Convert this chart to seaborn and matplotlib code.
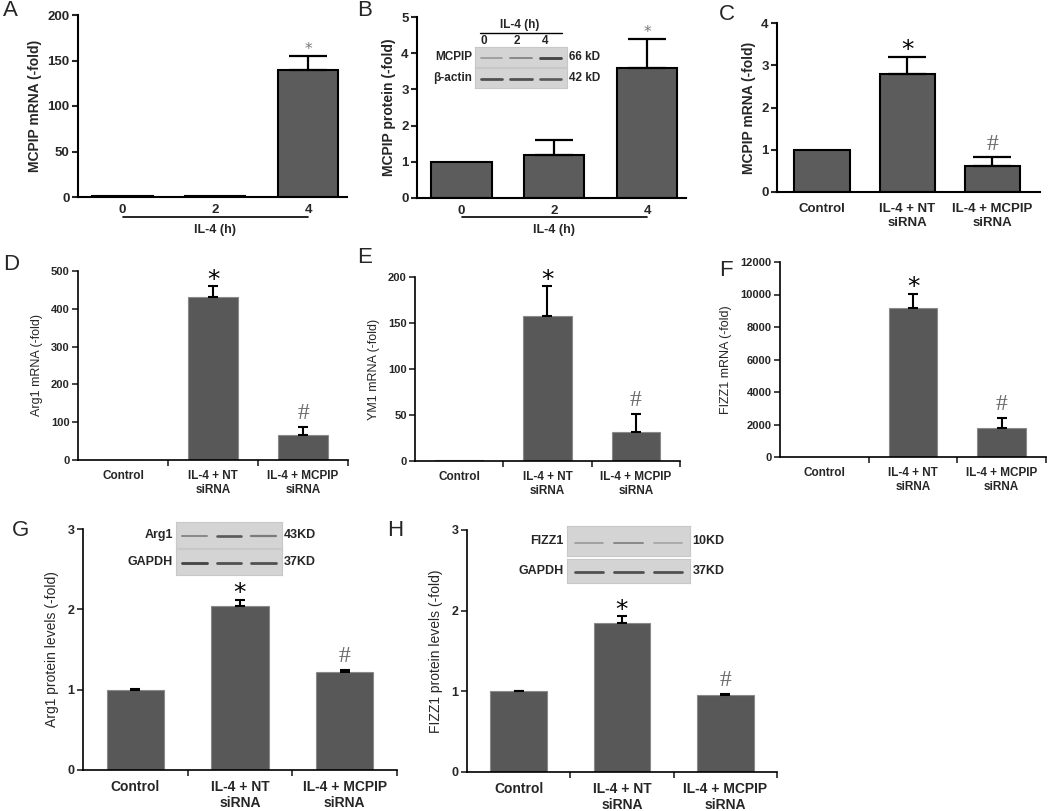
import numpy as np
import matplotlib.pyplot as plt
import seaborn as sns
from matplotlib.transforms import blended_transform_factory

# ---- data ----
time_labels = ['0', '2', '4']
sirna_labels = ['Control', 'IL-4 + NT\nsiRNA', 'IL-4 + MCPIP\nsiRNA']

mcpip_mrna_time = [1.0, 1.5, 140]
mcpip_mrna_time_err = [0, 0, 15]
mcpip_prot_time = [1.0, 1.2, 3.6]
mcpip_prot_time_err = [0, 0.4, 0.8]
mcpip_mrna_si = [1.0, 2.8, 0.62]
mcpip_mrna_si_err = [0, 0.4, 0.2]

arg1_mrna = [1, 430, 65]
arg1_mrna_err = [0, 30, 22]
ym1_mrna = [1, 158, 31]
ym1_mrna_err = [0, 32, 20]
fizz1_mrna = [1, 9200, 1800]
fizz1_mrna_err = [0, 850, 600]

arg1_prot = [1.0, 2.04, 1.22]
arg1_prot_err = [0.01, 0.08, 0.03]
fizz1_prot = [1.0, 1.85, 0.96]
fizz1_prot_err = [0.01, 0.08, 0.01]

sig_time = ['', '', '*']
sig_si = ['', '*', '#']

# western blot band strength per lane (0 = none, 1 = dark)
blot_b = {'MCPIP': [0.3, 0.4, 0.8], 'β-actin': [0.75, 0.75, 0.7]}
blot_g = {'Arg1': [0.4, 0.7, 0.5], 'GAPDH': [0.8, 0.75, 0.75]}
blot_h = {'FIZZ1': [0.3, 0.4, 0.25], 'GAPDH': [0.75, 0.75, 0.75]}
kd_b = ['66 kD', '42 kD']
kd_g = ['43KD', '37KD']
kd_h = ['10KD', '37KD']

sns.set_style('ticks')
plt.rcParams['font.family'] = ['Liberation Sans', 'DejaVu Sans']

W, H = 1050, 811
fig = plt.figure(figsize=(W / 100, H / 100), dpi=100)


def px_axes(l, t, r, b):
    return fig.add_axes([l / W, 1 - b / H, (r - l) / W, (b - t) / H])


def bars(ax, labels, vals, errs, sig, style):
    if style == 'prism':
        sns.barplot(x=labels, y=vals, order=labels, color='#5c5c5c', saturation=1,
                    edgecolor='black', linewidth=1.5, width=0.65, ax=ax)
        ecol, elw, cap = 'black', 1.6, 14
    else:
        sns.barplot(x=labels, y=vals, order=labels, color='#585858', saturation=1,
                    edgecolor='#8a8a8a', linewidth=0.8, width=0.55, ax=ax)
        ecol, elw, cap = 'black', 1.5, 3.5
    idx = [i for i, e in enumerate(errs) if e > 0]
    ax.errorbar(idx, [vals[i] for i in idx], yerr=[[0] * len(idx), [errs[i] for i in idx]],
                fmt='none', ecolor=ecol, elinewidth=elw, capsize=cap, capthick=elw)
    for i, s in enumerate(sig):
        if not s:
            continue
        top = vals[i] + errs[i]
        if s == '*':
            if style == 'prism' and labels[0] == '0':
                ax.annotate(s, (i, top), xytext=(0, -1), textcoords='offset points',
                            ha='center', va='bottom', fontsize=11, color='#777777',
                            family='DejaVu Sans')
            else:
                ax.annotate(s, (i, top), xytext=(0, -4), textcoords='offset points',
                            ha='center', va='bottom', fontsize=18, color='black',
                            family='DejaVu Sans')
        else:
            ax.annotate(s, (i, top), xytext=(0, 2), textcoords='offset points',
                        ha='center', va='bottom', fontsize=17, color='#6a6a6a',
                        family='Liberation Serif')
    ax.set_xlabel('')


def style_prism(ax, ylim, step, ylabel, cat_pad=5):
    ax.set_ylim(*ylim)
    ax.set_yticks(np.arange(ylim[0], ylim[1] + step / 2, step))
    sns.despine(ax=ax)
    for s in ['left', 'bottom']:
        ax.spines[s].set_linewidth(1.5)
        ax.spines[s].set_color('black')
    ax.tick_params(axis='y', direction='out', length=4, width=1.5, labelsize=9.5, pad=2)
    ax.tick_params(axis='x', length=0, labelsize=9.5, pad=cat_pad)
    plt.setp(ax.get_yticklabels(), fontweight='bold')
    plt.setp(ax.get_xticklabels(), fontweight='bold', linespacing=1.25)
    ax.set_ylabel(ylabel, fontsize=10, fontweight='bold', labelpad=4)


def style_excel(ax, ylim, step, ylabel, tick_fs, lab_fs, cat_fs):
    ax.set_ylim(*ylim)
    ax.set_xlim(-0.5, 2.5)
    ax.set_yticks(np.arange(ylim[0], ylim[1] + step / 2, step))
    sns.despine(ax=ax)
    for s in ['left', 'bottom']:
        ax.spines[s].set_linewidth(1.2)
        ax.spines[s].set_color('black')
    ax.set_xticks([0.5, 1.5, 2.5], minor=True)
    ax.tick_params(axis='x', which='minor', direction='out', length=4, width=1.2)
    ax.tick_params(axis='x', which='major', length=0, labelsize=cat_fs, pad=7)
    ax.tick_params(axis='y', direction='out', length=4, width=1.2, labelsize=tick_fs, pad=2)
    plt.setp(ax.get_yticklabels(), fontweight='bold')
    plt.setp(ax.get_xticklabels(), fontweight='bold', linespacing=1.2)
    ax.set_ylabel(ylabel, fontsize=lab_fs, labelpad=6)


def il4_underline(ax, y_line, y_text):
    tr = blended_transform_factory(ax.transData, ax.transAxes)
    ax.plot([0, 2], [y_line, y_line], transform=tr, clip_on=False, color='black', lw=1.2)
    ax.text(1, y_text, 'IL-4 (h)', transform=tr, ha='center', va='center',
            fontsize=9, fontweight='bold')


def blot(rect_top, rect_bot, bands, kds, lab_fs=9):
    for rect, (name, lanes), kd in zip([rect_top, rect_bot], bands.items(), kds):
        bx = px_axes(*rect)
        bx.set_facecolor('#d4d4d4')
        for s in bx.spines.values():
            s.set_color('#c8c8c8')
        bx.set_xticks([])
        bx.set_yticks([])
        bx.set_xlim(-0.55, 2.55)
        bx.set_ylim(0, 1)
        for i, v in enumerate(lanes):
            bx.plot([i - 0.36, i + 0.36], [0.45, 0.45], color=plt.cm.Greys(0.3 + 0.6 * v),
                    lw=0.8 + 1.6 * v, solid_capstyle='round')
        bx.text(-0.03, 0.5, name, transform=bx.transAxes, ha='right', va='center',
                fontsize=lab_fs, fontweight='bold')
        bx.text(1.02, 0.5, kd, transform=bx.transAxes, ha='left', va='center',
                fontsize=lab_fs, fontweight='bold')


# ---- A ----
axA = px_axes(78, 15, 347, 197)
bars(axA, time_labels, mcpip_mrna_time, mcpip_mrna_time_err, sig_time, 'prism')
axA.set_xlim(-0.48, 2.42)
style_prism(axA, (0, 200), 50, 'MCPIP mRNA (-fold)')
il4_underline(axA, -0.11, -0.18)

# ---- B ----
axB = px_axes(417, 17, 686, 198)
bars(axB, time_labels, mcpip_prot_time, mcpip_prot_time_err, sig_time, 'prism')
axB.set_xlim(-0.48, 2.42)
style_prism(axB, (0, 5), 1, 'MCPIP protein (-fold)')
il4_underline(axB, -0.105, -0.175)
blot((475, 47, 567, 67), (475, 68, 567, 88), blot_b, kd_b, lab_fs=8.5)
fig.text(520 / W, 1 - 25 / H, 'IL-4 (h)', ha='center', va='center', fontsize=8.5, fontweight='bold')
fig.add_artist(plt.Line2D([480 / W, 562 / W], [1 - 33 / H, 1 - 33 / H], color='black', lw=1))
for lab, xp in zip(time_labels, [484, 517, 545]):
    fig.text(xp / W, 1 - 41 / H, lab, ha='center', va='center', fontsize=8.5, fontweight='bold')

# ---- C ----
axC = px_axes(777, 23, 1040, 192)
bars(axC, sirna_labels, mcpip_mrna_si, mcpip_mrna_si_err, sig_si, 'prism')
axC.set_xlim(-0.53, 2.56)
style_prism(axC, (0, 4), 1, 'MCPIP mRNA (-fold)', cat_pad=8)

# ---- D ----
axD = px_axes(78, 271, 348, 460)
bars(axD, sirna_labels, arg1_mrna, arg1_mrna_err, sig_si, 'excel')
style_excel(axD, (0, 500), 100, 'Arg1 mRNA (-fold)', 8, 9, 8.5)

# ---- E ----
axE = px_axes(415, 277, 680, 461)
bars(axE, sirna_labels, ym1_mrna, ym1_mrna_err, sig_si, 'excel')
style_excel(axE, (0, 200), 50, 'YM1 mRNA (-fold)', 8, 9, 8.5)

# ---- F ----
axF = px_axes(780, 262, 1046, 457)
bars(axF, sirna_labels, fizz1_mrna, fizz1_mrna_err, sig_si, 'excel')
style_excel(axF, (0, 12000), 2000, 'FIZZ1 mRNA (-fold)', 8, 9, 8.5)

# ---- G ----
axG = px_axes(83, 529, 397, 770)
bars(axG, sirna_labels, arg1_prot, arg1_prot_err, sig_si, 'excel')
style_excel(axG, (0, 3), 1, 'Arg1 protein levels (-fold)', 9, 10, 10)
blot((176, 522, 282, 548), (176, 549, 282, 575), blot_g, kd_g)

# ---- H ----
axH = px_axes(467, 530, 777, 772)
bars(axH, sirna_labels, fizz1_prot, fizz1_prot_err, sig_si, 'excel')
style_excel(axH, (0, 3), 1, 'FIZZ1 protein levels (-fold)', 9, 10, 10)
blot((567, 526, 690, 556), (567, 559, 690, 583), blot_h, kd_h)

# panel letters
for letter, xp, yp in [('A', 3, 11), ('B', 357, 11), ('C', 719, 14), ('D', 3, 265),
                       ('E', 357, 258), ('F', 719, 270), ('G', 12, 531), ('H', 387, 531)]:
    fig.text(xp / W, 1 - yp / H, letter, ha='left', va='center', fontsize=16)

fig.savefig('out.png', dpi=100)
